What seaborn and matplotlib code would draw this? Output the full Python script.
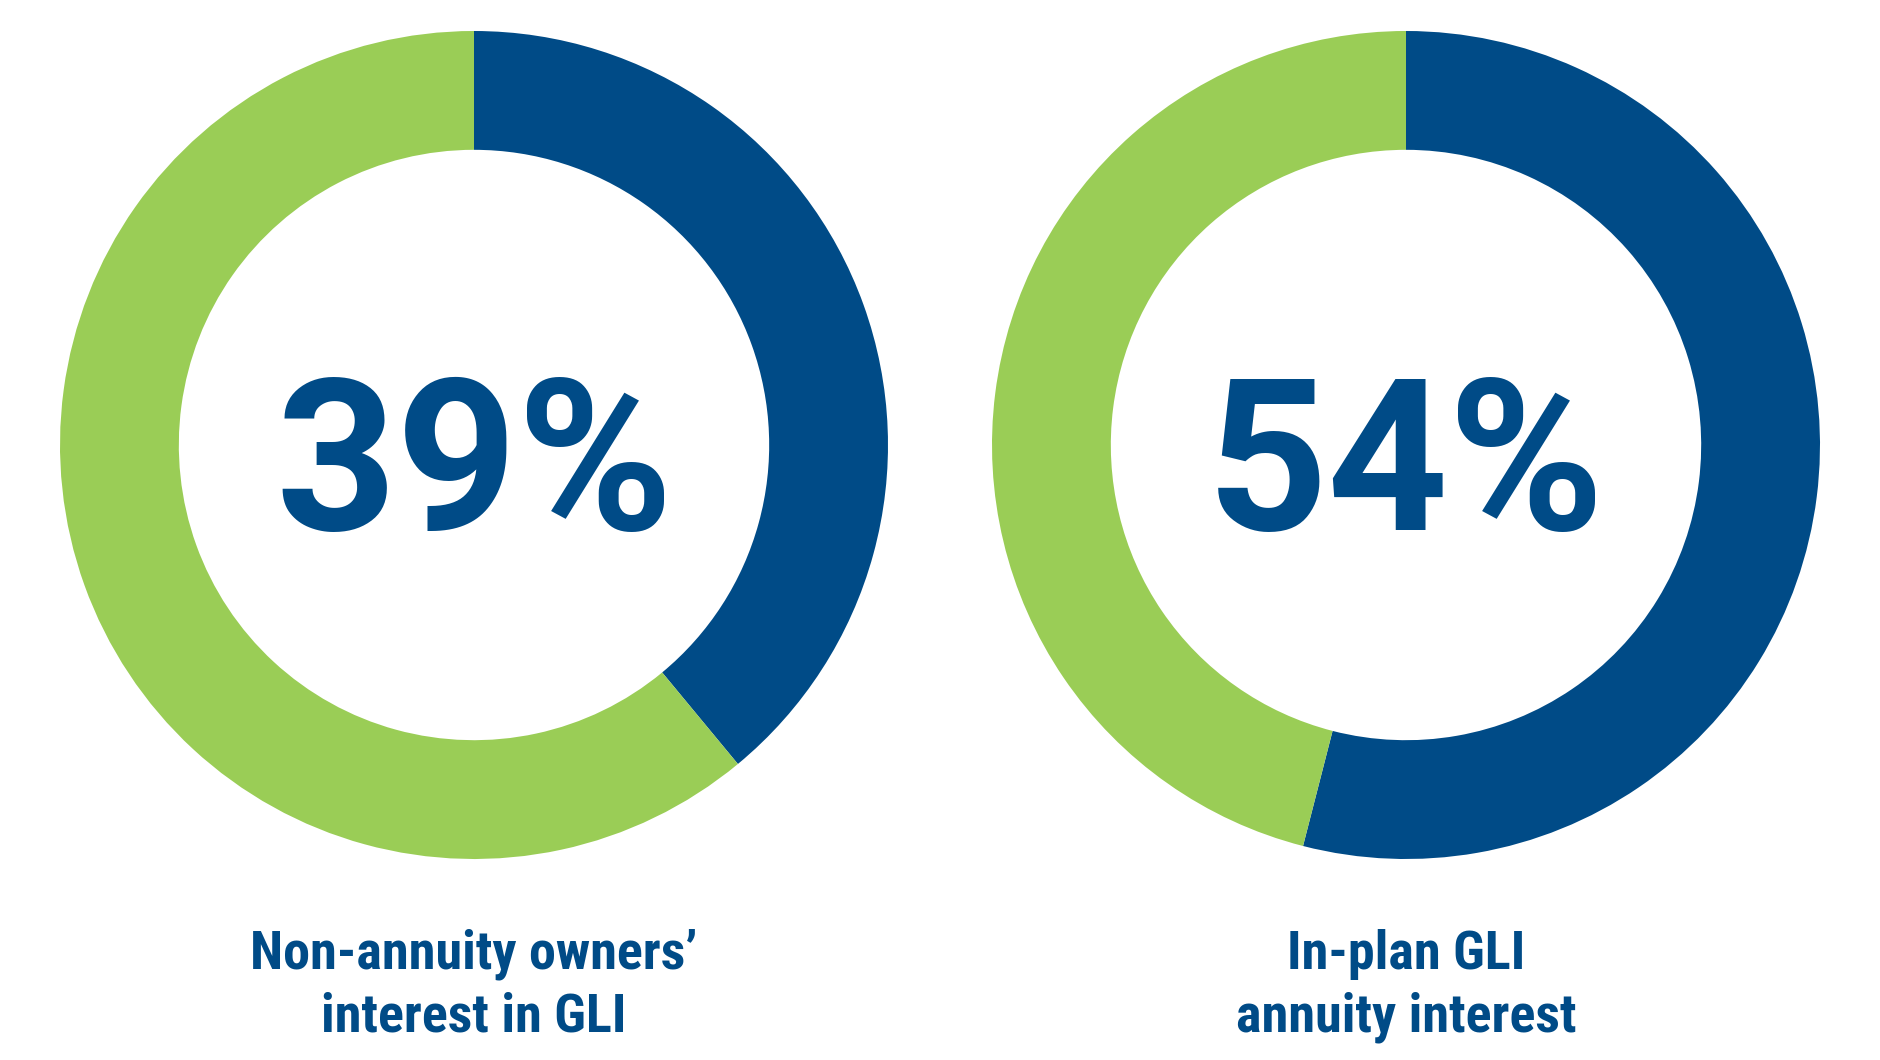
import matplotlib
matplotlib.use("Agg")
import matplotlib.pyplot as plt
from matplotlib import font_manager as fm
import seaborn as sns

# values
shares = [39, 54]
center_labels = ["39%", "54%"]
captions = [["Non-annuity owners\u2019", "interest in GLI"],
            ["In-plan GLI", "annuity interest"]]

BLUE = "#004B87"
GREEN = "#9ACD56"

sns.set_theme(style="white")


def pick_font(names):
    for name in names:
        try:
            fm.findfont(fm.FontProperties(family=name), fallback_to_default=False)
            return name
        except ValueError:
            continue
    return "DejaVu Sans"


def narrow_bold():
    # look for a bold narrow/condensed face among installed fonts
    prefs = ["Liberation Sans Narrow", "Roboto Condensed", "Open Sans Condensed",
             "Noto Sans Display", "DejaVu Sans"]
    found = []
    for f in fm.fontManager.ttflist:
        fname = f.fname.lower()
        is_narrow = ("narrow" in fname or "condensed" in fname
                     or f.stretch in ("condensed", "semi-condensed", "extra-condensed"))
        w = f.weight if isinstance(f.weight, int) else 400
        if is_narrow and ("bold" in fname or w >= 600) and "italic" not in fname \
                and "oblique" not in fname:
            found.append(f)
    for p in prefs:
        for f in found:
            if f.name.startswith(p):
                return fm.FontProperties(fname=f.fname), p
    if found:
        return fm.FontProperties(fname=found[0].fname), found[0].name
    return fm.FontProperties(family="DejaVu Sans", weight="bold"), "none"


big = pick_font(["Roboto", "Lato", "DejaVu Sans"])
cap_font, cap_name = narrow_bold()
cap_size = {"Liberation Sans Narrow": 39, "Roboto Condensed": 39}.get(cap_name, 30)
cap_font.set_size(cap_size)

W, H = 1880, 1060
fig = plt.figure(figsize=(W / 100, H / 100), dpi=100)

centers_x = [474, 1406]
center_y = 445
r_out = 414

for i, share in enumerate(shares):
    cx = centers_x[i]
    ax = fig.add_axes([(cx - r_out) / W, (H - center_y - r_out) / H,
                       2 * r_out / W, 2 * r_out / H])
    ax.pie([share, 100 - share], colors=[BLUE, GREEN], startangle=90,
           counterclock=False, radius=1,
           wedgeprops=dict(width=0.287, linewidth=0))
    ax.set_xlim(-1, 1)
    ax.set_ylim(-1, 1)
    ax.set_aspect("equal")
    ax.axis("off")
    ax.text(0, -0.066, center_labels[i], ha="center", va="center",
            fontsize=152, fontweight="bold", color=BLUE, family=big)

    for j, line in enumerate(captions[i]):
        y = 954 + j * 63
        fig.text(cx / W, 1 - y / H, line, ha="center", va="center",
                 fontproperties=cap_font, color=BLUE)

fig.savefig("out.png", dpi=100, facecolor="white")
